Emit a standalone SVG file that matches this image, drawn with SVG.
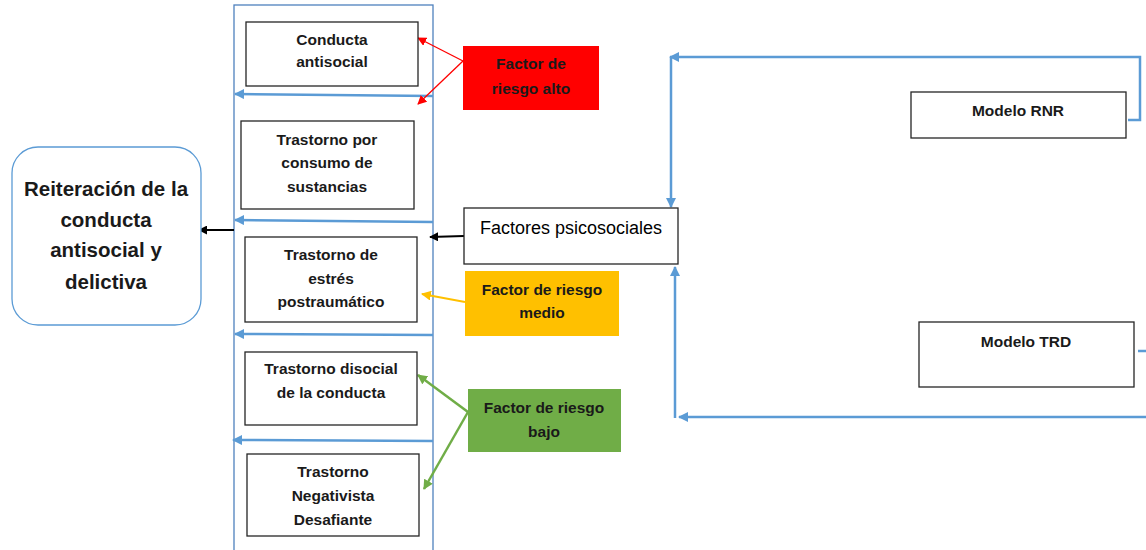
<svg xmlns="http://www.w3.org/2000/svg" width="1146" height="550" viewBox="0 0 1146 550">
<style>
.box{fill:#fff;stroke:#262626;stroke-width:1.3}
.t{font-family:"Liberation Sans",Arial,sans-serif;font-weight:bold;font-size:15.5px;fill:#1a1a1a;text-anchor:middle}
.big{font-size:20.5px}
.reg{font-weight:normal;font-size:18px;fill:#000}
.blue{fill:none;stroke:#5b9bd5;stroke-width:2.5}
.cont{fill:none;stroke:#4f81bd;stroke-width:1.3}
</style>
<defs>
<marker id="ab" viewBox="0 0 10 10" refX="9" refY="5" markerWidth="4" markerHeight="4" orient="auto"><path d="M0,0 L10,5 L0,10 z" fill="#5b9bd5"/></marker>
<marker id="ak" viewBox="0 0 10 10" refX="9" refY="5" markerWidth="4.5" markerHeight="4.5" orient="auto"><path d="M0,0 L10,5 L0,10 z" fill="#000"/></marker>
<marker id="ar" viewBox="0 0 10 10" refX="9" refY="5" markerWidth="7" markerHeight="7" orient="auto"><path d="M0,0 L10,5 L0,10 z" fill="#ff0000"/></marker>
<marker id="ao" viewBox="0 0 10 10" refX="9" refY="5" markerWidth="5" markerHeight="5" orient="auto"><path d="M0,0 L10,5 L0,10 z" fill="#ffc000"/></marker>
<marker id="ag" viewBox="0 0 10 10" refX="9" refY="5" markerWidth="4" markerHeight="4" orient="auto"><path d="M0,0 L10,5 L0,10 z" fill="#70ad47"/></marker>
</defs>
<rect width="1146" height="550" fill="#fff"/>
<g id="container"><rect class="cont" x="234" y="5" width="199" height="560"/></g>
<g id="connectors">
<line class="blue" x1="433" y1="96" x2="235" y2="94" stroke-width="2" marker-end="url(#ab)"/>
<line class="blue" x1="433" y1="222" x2="235" y2="220" stroke-width="2" marker-end="url(#ab)"/>
<line class="blue" x1="433" y1="335" x2="235" y2="334" stroke-width="2" marker-end="url(#ab)"/>
<line class="blue" x1="433" y1="441" x2="233" y2="440" stroke-width="2" marker-end="url(#ab)"/>
<line x1="234" y1="230" x2="199" y2="230" stroke="#000" stroke-width="2" marker-end="url(#ak)"/>
<line x1="464" y1="236" x2="430" y2="237" stroke="#000" stroke-width="2" marker-end="url(#ak)"/>
<line x1="463" y1="61" x2="418" y2="38" stroke="#ff0000" stroke-width="1.3" marker-end="url(#ar)"/>
<line x1="463" y1="61" x2="418" y2="104" stroke="#ff0000" stroke-width="1.3" marker-end="url(#ar)"/>
<line x1="465" y1="302" x2="422" y2="294" stroke="#ffc000" stroke-width="2" marker-end="url(#ao)"/>
<line x1="468" y1="412" x2="418" y2="375" stroke="#70ad47" stroke-width="2.5" marker-end="url(#ag)"/>
<line x1="468" y1="412" x2="424" y2="489" stroke="#70ad47" stroke-width="2.5" marker-end="url(#ag)"/>
<polyline class="blue" points="1128,120 1140,120 1140,57 670,57" marker-end="url(#ab)"/>
<line class="blue" x1="671" y1="57" x2="671" y2="207" marker-end="url(#ab)"/>
<line class="blue" x1="1138" y1="351" x2="1146" y2="351"/>
<line class="blue" x1="1146" y1="417" x2="679" y2="417" marker-end="url(#ab)"/>
<line class="blue" x1="675" y1="418" x2="675" y2="267" marker-end="url(#ab)"/>
</g>
<g id="reiteracion">
<rect x="12" y="147" width="189" height="178" rx="26" fill="#fff" stroke="#5b9bd5" stroke-width="1.3"/>
<text class="t big" x="106" y="196">Reiteración de la</text>
<text class="t big" x="106" y="227">conducta</text>
<text class="t big" x="106" y="257">antisocial y</text>
<text class="t big" x="106" y="289">delictiva</text>
</g>
<g id="conducta">
<rect class="box" x="246" y="22" width="172" height="64"/>
<text class="t" x="332" y="45">Conducta</text>
<text class="t" x="332" y="67">antisocial</text>
</g>
<g id="consumo">
<rect class="box" x="241" y="121" width="173" height="88"/>
<text class="t" x="327" y="145">Trastorno por</text>
<text class="t" x="327" y="168">consumo de</text>
<text class="t" x="327" y="192">sustancias</text>
</g>
<g id="estres">
<rect class="box" x="245" y="237" width="172" height="85"/>
<text class="t" x="331" y="260">Trastorno de</text>
<text class="t" x="331" y="284">estrés</text>
<text class="t" x="331" y="307">postraumático</text>
</g>
<g id="disocial">
<rect class="box" x="245" y="352" width="172" height="73"/>
<text class="t" x="331" y="374">Trastorno disocial</text>
<text class="t" x="331" y="398">de la conducta</text>
</g>
<g id="negativista">
<rect class="box" x="247" y="454" width="172" height="82"/>
<text class="t" x="333" y="477">Trastorno</text>
<text class="t" x="333" y="501">Negativista</text>
<text class="t" x="333" y="525">Desafiante</text>
</g>
<g id="alto">
<rect x="463" y="46" width="136" height="64" fill="#ff0000"/>
<text class="t" x="531" y="69">Factor de</text>
<text class="t" x="531" y="94">riesgo alto</text>
</g>
<g id="psicosociales">
<rect class="box" x="464" y="208" width="214" height="56"/>
<text class="t reg" x="571" y="234">Factores psicosociales</text>
</g>
<g id="medio">
<rect x="465" y="271" width="154" height="65" fill="#ffc000"/>
<text class="t" x="542" y="295">Factor de riesgo</text>
<text class="t" x="542" y="318">medio</text>
</g>
<g id="bajo">
<rect x="468" y="389" width="153" height="63" fill="#70ad47"/>
<text class="t" x="544" y="413">Factor de riesgo</text>
<text class="t" x="544" y="437">bajo</text>
</g>
<g id="rnr">
<rect class="box" x="911" y="92" width="215" height="46"/>
<text class="t" x="1018" y="116">Modelo RNR</text>
</g>
<g id="trd">
<rect class="box" x="919" y="322" width="215" height="65"/>
<text class="t" x="1026" y="347">Modelo TRD</text>
</g>
</svg>
